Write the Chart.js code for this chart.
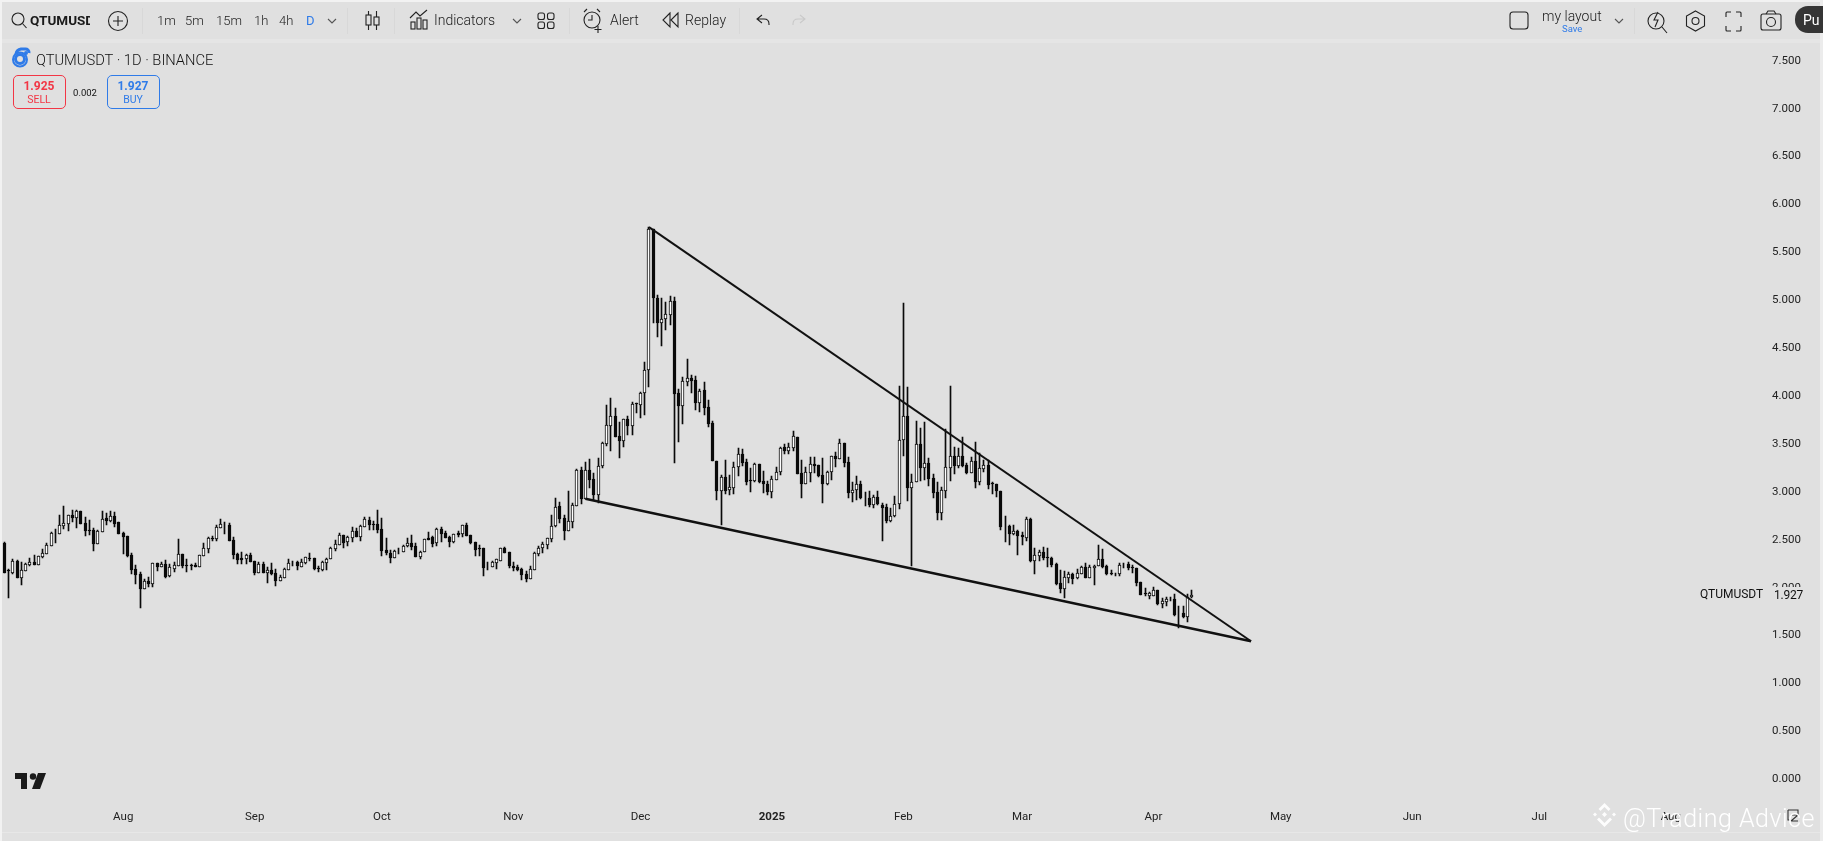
<!DOCTYPE html>
<html><head><meta charset="utf-8">
<script src="https://cdn.jsdelivr.net/npm/chart.js@4/dist/chart.umd.js"></script>
<style>
html,body{margin:0;padding:0;width:1823px;height:841px;overflow:hidden;background:#e0e0e0;font-family:Roboto,sans-serif;color:#1a1a1a}
#wrap{position:absolute;left:0;top:0;width:1823px;height:841px}
.t{position:absolute;white-space:nowrap;transform:translateY(-50%);font-size:13px;line-height:1}
.s{position:absolute;overflow:visible}
.bar{position:absolute;background:#e8e8e8}
.box{position:absolute;box-sizing:border-box;width:53px;height:34px;top:75px;border-radius:5px;border:1px solid}
.c{position:absolute;white-space:nowrap;transform:translate(-50%,-50%);line-height:1}
</style></head><body>
<div id="wrap"><canvas id="c" width="1823" height="841"></canvas></div>

<div class="bar" style="left:0;top:0;width:1823px;height:2px;background:#f2f2f2"></div>
<div class="bar" style="left:0;top:0;width:2px;height:841px;background:#f2f2f2"></div>
<div class="bar" style="left:1820px;top:0;width:3px;height:841px;background:#ececec"></div>
<div class="bar" style="left:2px;top:39px;width:1818px;height:4px;background:#e5e5e5"></div>
<div class="bar" style="left:2px;top:832px;width:1818px;height:1px;background:#e7e7e7"></div>
<div class="bar" style="left:142px;top:8px;width:1px;height:26px;background:#d8d8d8"></div>
<div class="bar" style="left:347px;top:8px;width:1px;height:26px;background:#d8d8d8"></div>
<div class="bar" style="left:394px;top:8px;width:1px;height:26px;background:#d8d8d8"></div>
<div class="bar" style="left:569px;top:8px;width:1px;height:26px;background:#d8d8d8"></div>
<div class="bar" style="left:739px;top:8px;width:1px;height:26px;background:#d8d8d8"></div>
<div class="bar" style="left:1634px;top:8px;width:1px;height:26px;background:#d8d8d8"></div>

<!-- left toolbar -->
<svg class="s" style="left:0;top:0" width="1823" height="44" fill="none" stroke="#222" stroke-width="1.1">
<circle cx="18" cy="19" r="6"/><path d="M22.5 23.5L26.5 28"/>
<circle cx="118" cy="21" r="9.5"/><path d="M113 21h10M118 16v10"/>
<path d="M328 19l4 4 4-4" stroke="#555"/>
<path d="M368.5 11v19M376.5 11v19"/><rect x="366" y="15" width="5" height="10" fill="#e0e0e0"/><rect x="374" y="17" width="5" height="8" fill="#e0e0e0"/>
<rect x="411" y="22" width="4" height="7"/><rect x="417" y="18" width="4" height="11"/><rect x="423" y="20" width="4" height="9"/><path d="M410 18l6-6 4 4 7-6"/>
<path d="M513 19l4 4 4-4" stroke="#555"/>
<rect x="538" y="13" width="6.5" height="6.5" rx="2"/><rect x="547.5" y="13" width="6.5" height="6.5" rx="2"/><rect x="538" y="22" width="6.5" height="6.5" rx="2"/><rect x="547.5" y="22" width="6.5" height="6.5" rx="2"/>
<circle cx="592" cy="20" r="8"/><path d="M592 15v5h-4M584 12l3-3M600 12l-3-3M598 26v7M594.500 29.500h7"/>
<path d="M670 13l-7 7 7 7zM678 13l-7 7 7 7z"/>
<path d="M762 15l-5 4 5 4M757 19h7c3 0 5 2 5 5v1"/>
<path d="M800 15l5 4-5 4M805 19h-7c-3 0-5 2-5 5v1" stroke="#c9c9c9"/>
<rect x="1510" y="12" width="18" height="17" rx="3"/>
<path d="M1615 19l4 4 4-4" stroke="#555"/>
<circle cx="1656" cy="21" r="8"/><path d="M1662 27l5 6M1658 12l-4 8h4l-3 7" fill="#e0e0e0"/>
<path d="M1695.500 11l9 5v10l-9 5-9-5V16z"/><circle cx="1695.500" cy="21" r="3.500"/>
<path d="M1726 17v-4a1 1 0 011-1h4M1736 12h4a1 1 0 011 1v4M1741 26v4a1 1 0 01-1 1h-4M1731 31h-4a1 1 0 01-1-1v-4"/>
<rect x="1761" y="14" width="20" height="16" rx="2"/><circle cx="1771" cy="22" r="4.500"/><path d="M1766 14l2-3h6l2 3"/>
</svg>
<div class="t" style="left:30px;top:20px;font-weight:700;font-size:13.500px;width:60px;overflow:hidden;height:14px;line-height:14px">QTUMUSDT</div>
<div class="t" style="left:157px;top:20px;font-weight:300">1m</div>
<div class="t" style="left:185px;top:20px;font-weight:300">5m</div>
<div class="t" style="left:216px;top:20px;font-weight:300">15m</div>
<div class="t" style="left:254px;top:20px;font-weight:300">1h</div>
<div class="t" style="left:279px;top:20px;font-weight:300">4h</div>
<div class="t" style="left:306px;top:20px;color:#2f7be8">D</div>
<div class="t" style="left:434px;top:20px;font-size:14px;font-weight:300">Indicators</div>
<div class="t" style="left:610px;top:20px;font-size:14px;font-weight:300">Alert</div>
<div class="t" style="left:685px;top:20px;font-size:14px;font-weight:300">Replay</div>
<div class="t" style="left:1542px;top:16px;font-size:14px;font-weight:300">my layout</div>
<div class="t" style="left:1562px;top:29px;font-size:9.500px;color:#2f7be8">Save</div>
<div style="position:absolute;left:1795px;top:6px;width:28px;height:27px;background:#353535;border-radius:13px 0 0 13px"></div>
<div class="t" style="left:1803px;top:20px;color:#fff;font-size:14px">Pu</div>

<!-- legend -->
<svg class="s" style="left:0;top:44px" width="40" height="30" fill="none" stroke="#2f7be8" stroke-width="3">
<circle cx="20" cy="15" r="4.500"/><path d="M16 10a6 6 0 0 1 5-5h4a3.500 3.500 0 0 1 4 4"/><circle cx="26" cy="9" r="2" fill="#2f7be8" stroke="none"/>
<circle cx="20" cy="15.500" r="7" stroke-width="2"/>
</svg>
<div class="t" style="left:36px;top:60px;font-size:14.700px;font-weight:300;color:#111">QTUMUSDT · 1D · BINANCE</div>
<div class="box" style="left:13px;border-color:#f23645"></div>
<div class="c" style="left:39px;top:86px;font-size:12px;font-weight:700;color:#f23645">1.925</div>
<div class="c" style="left:39px;top:100px;font-size:10.500px;color:#f23645">SELL</div>
<div class="c" style="left:85px;top:93px;font-size:9.500px;color:#111">0.002</div>
<div class="box" style="left:107px;border-color:#2f7be8"></div>
<div class="c" style="left:133px;top:86px;font-size:12px;font-weight:700;color:#2f7be8">1.927</div>
<div class="c" style="left:133px;top:100px;font-size:10.500px;color:#2f7be8">BUY</div>

<!-- last price tag -->
<div class="t" style="left:1700px;top:594px;font-size:12px;color:#111">QTUMUSDT</div>
<div style="position:absolute;left:1772px;top:587px;width:32px;height:14px;background:#e0e0e0"></div>
<div class="t" style="left:1774px;top:595px;font-size:12px;color:#111;letter-spacing:-.2px">1.927</div>

<!-- TradingView mark -->
<svg class="s" style="left:0;top:0" width="60" height="800" fill="#1a1a1a">
<path d="M15 773h12v16h-6v-10h-6z"/><circle cx="33" cy="776.500" r="3.200"/><path d="M38 773h8l-6 16h-8z"/>
</svg>

<!-- timezone box -->
<svg class="s" style="left:1785px;top:808px" width="20" height="20" fill="none" stroke="#333" stroke-width="1.1">
<path d="M3 2h10v6M3 2v10h2M6 13l7-6M7 7h6M6 13h7"/>
</svg>

<!-- watermark -->
<svg class="s" style="left:1590px;top:802px" width="32" height="32" fill="#fff" opacity=".92">
<path d="M14.500 1l6 6-2 2-4-4-4 4-2-2z"/><path d="M5 10.500l2 2-2 2-2-2zM24 10.500l2 2-2 2-2-2zM14.500 10l2.500 2.500-2.500 2.500-2.500-2.500z"/><path d="M9 15.500l5.500 5.500 5.500-5.500 2 2-7.500 7.500-7.500-7.500z"/>
</svg>
<div class="t" style="left:1623px;top:818px;font-size:25px;font-weight:300;color:#fff;letter-spacing:.5px">@Trading Advice</div>

<script>
// Daily candles, 4 Jul 2024 onwards
const opens=[
2.470,2.185,2.150,2.279,2.105,2.178,2.237,2.265,2.240,2.320,
2.355,2.439,2.574,2.564,2.647,2.668,2.755,2.731,2.797,2.672,
2.602,2.599,2.460,2.585,2.724,2.700,2.748,2.682,2.571,2.536,
2.338,2.192,2.139,1.990,2.066,2.042,2.254,2.219,2.247,2.119,
2.199,2.230,2.348,2.237,2.237,2.233,2.216,2.334,2.407,2.519,
2.512,2.627,2.668,2.651,2.494,2.348,2.306,2.303,2.345,2.275,
2.157,2.247,2.157,2.181,2.150,2.073,2.105,2.181,2.261,2.268,
2.219,2.258,2.306,2.310,2.206,2.185,2.261,2.303,2.407,2.449,
2.547,2.473,2.522,2.588,2.533,2.637,2.707,2.665,2.661,2.609,
2.390,2.359,2.313,2.386,2.376,2.439,2.463,2.432,2.324,2.373,
2.515,2.529,2.463,2.609,2.567,2.529,2.473,2.567,2.564,2.654,
2.547,2.473,2.414,2.411,2.219,2.219,2.261,2.282,2.411,2.369,
2.223,2.216,2.195,2.139,2.094,2.188,2.355,2.411,2.449,2.512,
2.640,2.849,2.724,2.595,2.689,2.853,3.229,2.929,3.225,3.131,
2.968,3.274,3.500,3.691,3.789,3.580,3.535,3.758,3.691,3.928,
3.911,4.029,4.269,5.741,5.021,4.767,4.802,4.843,4.989,4.029,
3.900,4.151,4.186,4.165,3.932,4.060,3.883,3.716,3.319,3.013,
3.152,3.023,3.044,3.256,3.392,3.309,3.121,3.110,3.288,3.110,
3.079,3.003,3.128,3.211,3.465,3.430,3.462,3.573,3.194,3.086,
3.201,3.288,3.277,3.173,3.086,3.204,3.371,3.347,3.507,3.309,
2.992,3.023,3.082,2.939,2.932,2.862,2.942,2.862,2.841,2.695,
2.748,2.876,3.538,3.788,3.043,3.106,3.496,3.252,3.297,3.141,
2.995,2.782,3.012,3.252,3.371,3.273,3.371,3.280,3.200,3.318,
3.106,3.242,3.280,3.092,3.078,3.009,2.647,2.643,2.560,2.591,
2.546,2.521,2.716,2.281,2.333,2.368,2.320,2.309,2.247,2.045,
1.983,2.104,2.139,2.097,2.146,2.212,2.104,2.209,2.226,2.296,
2.226,2.150,2.157,2.143,2.240,2.244,2.212,2.202,2.059,1.941,
1.916,1.916,1.972,1.829,1.854,1.885,1.878,1.729,1.732,1.697,1.899];
const closes=[
2.157,2.174,2.279,2.105,2.185,2.244,2.265,2.237,2.327,2.359,
2.442,2.571,2.567,2.651,2.672,2.755,2.731,2.797,2.668,2.595,
2.592,2.460,2.595,2.721,2.700,2.745,2.668,2.564,2.533,2.331,
2.188,2.136,1.986,2.066,2.042,2.254,2.219,2.247,2.112,2.212,
2.233,2.348,2.230,2.230,2.230,2.219,2.341,2.411,2.519,2.512,
2.630,2.661,2.661,2.491,2.345,2.292,2.292,2.338,2.272,2.157,
2.244,2.157,2.181,2.143,2.073,2.108,2.195,2.254,2.254,2.223,
2.265,2.317,2.299,2.199,2.199,2.265,2.303,2.411,2.453,2.547,
2.470,2.526,2.588,2.533,2.640,2.714,2.654,2.658,2.606,2.386,
2.366,2.313,2.380,2.380,2.439,2.463,2.425,2.324,2.376,2.505,
2.501,2.460,2.613,2.564,2.522,2.480,2.557,2.553,2.651,2.543,
2.470,2.397,2.407,2.209,2.212,2.265,2.296,2.411,2.366,2.226,
2.209,2.185,2.136,2.094,2.192,2.359,2.411,2.456,2.515,2.640,
2.839,2.721,2.595,2.693,2.863,3.229,2.929,3.229,3.128,2.968,
3.274,3.510,3.695,3.789,3.577,3.535,3.758,3.691,3.914,3.921,
4.033,4.269,5.745,5.021,4.767,4.809,4.854,4.989,4.025,3.900,
4.154,4.186,4.158,3.932,4.050,3.879,3.712,3.326,3.013,3.156,
3.013,3.048,3.256,3.392,3.302,3.107,3.114,3.291,3.100,3.079,
3.003,3.131,3.211,3.458,3.430,3.465,3.580,3.190,3.086,3.204,
3.288,3.274,3.169,3.086,3.204,3.371,3.347,3.507,3.305,2.992,
3.023,3.079,2.935,2.932,2.862,2.942,2.869,2.835,2.695,2.751,
2.876,3.538,3.788,3.043,3.106,3.496,3.252,3.297,3.137,2.991,
2.782,3.016,3.256,3.371,3.273,3.371,3.273,3.193,3.318,3.106,
3.245,3.277,3.075,3.085,3.005,2.636,2.640,2.560,2.587,2.539,
2.525,2.716,2.278,2.337,2.368,2.313,2.313,2.239,2.038,1.983,
2.108,2.139,2.094,2.150,2.212,2.104,2.212,2.230,2.296,2.212,
2.139,2.143,2.150,2.233,2.233,2.205,2.205,2.052,1.927,1.934,
1.941,1.972,1.829,1.861,1.882,1.878,1.718,1.722,1.694,1.899,1.927];
const highs=[
2.477,2.192,2.299,2.289,2.265,2.254,2.306,2.338,2.331,2.400,
2.463,2.578,2.609,2.755,2.853,2.755,2.808,2.808,2.804,2.734,
2.703,2.620,2.602,2.797,2.783,2.797,2.787,2.689,2.585,2.536,
2.359,2.237,2.160,2.094,2.108,2.258,2.258,2.268,2.289,2.244,
2.265,2.505,2.348,2.296,2.247,2.254,2.345,2.463,2.526,2.536,
2.651,2.714,2.686,2.672,2.526,2.359,2.369,2.355,2.359,2.279,
2.268,2.272,2.216,2.254,2.192,2.132,2.202,2.296,2.275,2.275,
2.299,2.324,2.359,2.313,2.230,2.275,2.306,2.421,2.498,2.567,
2.550,2.536,2.634,2.620,2.654,2.734,2.734,2.693,2.808,2.724,
2.515,2.390,2.390,2.418,2.442,2.515,2.547,2.463,2.383,2.505,
2.581,2.540,2.620,2.634,2.588,2.543,2.560,2.588,2.654,2.672,
2.553,2.477,2.446,2.411,2.265,2.275,2.296,2.411,2.425,2.373,
2.268,2.233,2.206,2.171,2.223,2.373,2.435,2.480,2.519,2.759,
2.936,2.891,2.762,3.006,2.881,3.236,3.256,3.309,3.343,3.194,
3.350,3.517,3.904,3.980,3.872,3.726,3.765,3.792,3.939,3.932,
4.043,4.353,5.769,5.741,5.059,5.021,4.979,5.042,5.031,4.071,
4.196,4.384,4.220,4.206,4.074,4.144,3.956,3.737,3.326,3.173,
3.330,3.173,3.309,3.455,3.451,3.343,3.246,3.298,3.291,3.215,
3.114,3.166,3.263,3.465,3.500,3.507,3.636,3.577,3.333,3.263,
3.361,3.361,3.284,3.354,3.215,3.378,3.420,3.549,3.514,3.361,
3.107,3.169,3.109,3.002,3.009,2.963,3.005,2.880,2.869,2.835,
2.953,4.101,4.968,4.091,3.183,3.739,3.663,3.725,3.350,3.186,
3.102,3.054,3.652,4.101,3.464,3.454,3.572,3.297,3.367,3.517,
3.402,3.332,3.332,3.102,3.082,3.012,2.744,2.654,2.654,2.601,
2.577,2.734,2.723,2.410,2.393,2.420,2.413,2.323,2.254,2.184,
2.171,2.167,2.150,2.191,2.226,2.261,2.237,2.237,2.442,2.400,
2.233,2.184,2.157,2.254,2.254,2.271,2.240,2.205,2.063,1.996,
1.955,2.003,1.976,1.896,1.899,1.906,1.930,1.809,1.805,1.934,1.972];
const lows=[
2.157,1.896,2.143,2.101,2.028,2.174,2.226,2.233,2.237,2.313,
2.352,2.435,2.466,2.560,2.613,2.592,2.686,2.623,2.665,2.540,
2.547,2.383,2.456,2.581,2.654,2.682,2.634,2.560,2.348,2.320,
2.143,2.038,1.791,1.986,2.004,2.004,2.178,2.219,2.105,2.115,
2.167,2.226,2.202,2.167,2.181,2.212,2.212,2.331,2.366,2.491,
2.491,2.623,2.560,2.487,2.299,2.247,2.251,2.247,2.268,2.136,
2.150,2.153,2.049,2.132,2.018,2.070,2.101,2.181,2.230,2.185,
2.216,2.251,2.279,2.188,2.167,2.178,2.185,2.299,2.386,2.446,
2.418,2.435,2.480,2.529,2.487,2.637,2.602,2.606,2.574,2.331,
2.341,2.261,2.306,2.352,2.373,2.421,2.397,2.320,2.299,2.373,
2.498,2.425,2.435,2.480,2.519,2.425,2.470,2.529,2.526,2.540,
2.456,2.331,2.331,2.125,2.185,2.216,2.195,2.282,2.362,2.202,
2.174,2.178,2.080,2.063,2.091,2.188,2.334,2.366,2.407,2.480,
2.637,2.675,2.498,2.592,2.623,2.849,2.874,2.922,3.041,2.915,
2.888,3.246,3.483,3.430,3.570,3.357,3.472,3.591,3.598,3.827,
3.775,3.806,4.092,4.767,4.621,4.523,4.690,4.742,3.305,3.521,
3.709,4.106,4.033,3.855,3.838,3.806,3.678,3.326,2.915,2.654,
2.975,2.968,2.978,3.169,3.274,3.072,3.000,3.103,3.093,2.985,
2.968,2.940,3.124,3.176,3.392,3.396,3.430,3.190,2.940,3.082,
3.107,3.194,3.159,2.888,3.075,3.124,3.263,3.343,3.256,2.936,
2.898,2.912,2.922,2.852,2.838,2.831,2.862,2.487,2.678,2.688,
2.737,2.821,3.374,2.908,2.229,3.102,3.116,3.123,3.061,2.939,
2.709,2.709,2.935,3.113,3.186,3.245,3.256,3.183,3.196,3.040,
3.071,3.210,3.029,2.977,2.949,2.601,2.480,2.445,2.549,2.340,
2.445,2.490,2.267,2.142,2.281,2.288,2.212,2.219,2.028,1.948,
1.896,2.052,2.038,2.094,2.143,2.101,2.097,2.031,2.226,2.209,
2.132,2.129,2.122,2.125,2.205,2.188,2.153,2.021,1.920,1.913,
1.885,1.909,1.822,1.788,1.812,1.861,1.704,1.575,1.687,1.645,1.896];

const startDate='2024-07-04';
const futureDays=135;                 // empty days drawn to the right of the last candle
const tickDates=['2024-08-01','2024-09-01','2024-10-01','2024-11-01','2024-12-01','2025-01-01','2025-02-01','2025-03-01','2025-04-01','2025-05-01','2025-06-01','2025-07-01','2025-08-01'];
const tickTexts=['Aug','Sep','Oct','Nov','Dec','2025','Feb','Mar','Apr','May','Jun','Jul','Aug'];
const priceTicks=[0,0.5,1,1.5,2,2.5,3,3.5,4,4.5,5,5.5,6,6.5,7,7.5];
// Trend lines: [date, price]
const upperLine=[['2024-12-03',5.763],['2025-04-24',1.441]];
const lowerLine=[['2024-11-18',2.928],['2025-04-24',1.441]];

const HOLLOW='#ffffff',INK='#0a0a0a';
const N=opens.length+futureDays;
const days=[];
for(let i=0;i<N;i++){days.push(new Date(Date.parse(startDate)+i*864e5).toISOString().slice(0,10));}
const tickMap=new Map(tickDates.map((d,i)=>[d,tickTexts[i]]));

// Keep candles crisp like the reference
const snap={id:'snap',beforeDatasetDraw(chart,args){
  const m=args.meta; if(m.type!=='bar')return;
  m.data.forEach(e=>{e.x=Math.round(e.x-.5)+.5;e.y=Math.round(e.y);e.base=Math.round(e.base);});
}};

Chart.defaults.font.family='Roboto, sans-serif';
new Chart(document.getElementById('c'),{
 type:'bar',
 plugins:[snap],
 data:{labels:days,datasets:[
  {type:'line',label:'upper',data:upperLine.map(p=>({x:p[0],y:p[1]})),borderColor:'#111',borderWidth:2,pointRadius:0,order:0},
  {type:'line',label:'lower',data:lowerLine.map(p=>({x:p[0],y:p[1]})),borderColor:'#111',borderWidth:2.4,pointRadius:0,order:0},
  {label:'body',grouped:false,order:1,barThickness:3,borderWidth:1,borderSkipped:false,borderColor:INK,
   data:opens.map((o,i)=>[Math.min(o,closes[i]),Math.max(o,closes[i])]),
   backgroundColor:opens.map((o,i)=>closes[i]>=o?HOLLOW:INK)},
  {label:'wick',grouped:false,order:2,barThickness:1,borderWidth:0,backgroundColor:INK,
   data:lows.map((l,i)=>[l,highs[i]])}
 ]},
 options:{
  responsive:false,animation:false,
  layout:{autoPadding:false,padding:{left:2.38,right:22,top:44,bottom:0}},
  plugins:{legend:{display:false},tooltip:{enabled:false}},
  scales:{
   x:{type:'category',offset:true,grid:{display:false,drawTicks:false},border:{display:false},
      afterFit(s){s.height=41;s.paddingLeft=0;s.paddingRight=0;},
      ticks:{autoSkip:false,maxRotation:0,minRotation:0,padding:10,color:'#222',
        font:c=>({size:11.5,weight:c.tick&&c.tick.label==='2025'?'700':'400',family:'Roboto, sans-serif'}),
        callback(v,i){return tickMap.get(days[i])||'';}}},
   y:{position:'right',min:-0.216,max:7.675,grid:{display:false,drawTicks:false},border:{display:false},
      afterFit(s){s.width=34.8;},
      afterBuildTicks(s){s.ticks=priceTicks.map(v=>({value:v}));},
      ticks:{crossAlign:'far',padding:8,color:'#222',font:{size:11.5},callback:v=>v.toFixed(3)}}
  }
 }
});
</script>
</body></html>
